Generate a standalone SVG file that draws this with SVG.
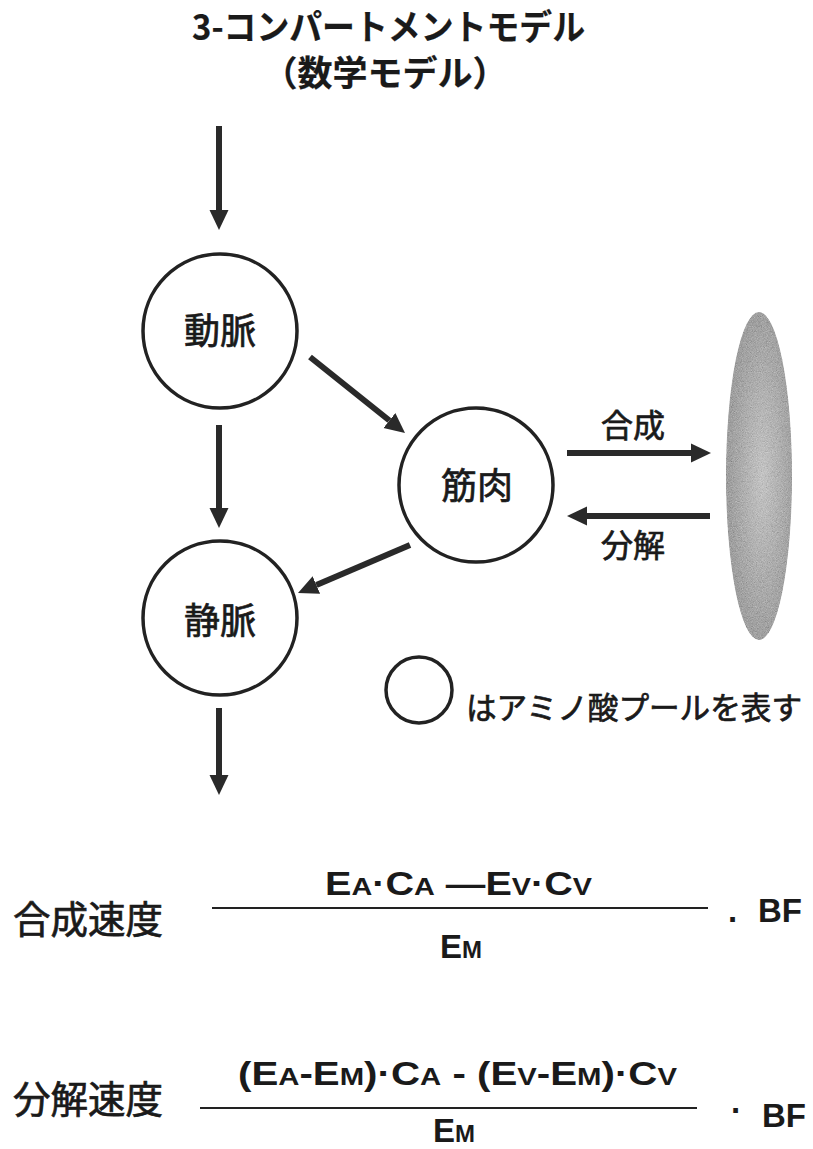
<svg xmlns="http://www.w3.org/2000/svg" width="813" height="1149" viewBox="0 0 813 1149">
<style>
.jp{font-family:"Noto Sans CJK JP","Noto Sans",sans-serif;fill:#1a1a1a;stroke:#1a1a1a;stroke-width:0.7}
.tt{font-weight:bold;font-size:35px;stroke-width:0.2}
.nd{font-size:36px}
.lat{font-family:"Liberation Sans",Arial,sans-serif;font-weight:bold;fill:#1a1a1a;font-size:33px}
.sub{font-size:24px}
.pool{fill:#fff;stroke:#222;stroke-width:3.5}
.ar{stroke:#2a2a2a;stroke-width:6;fill:none;marker-end:url(#ah)}
.fl{stroke:#222;stroke-width:2}
</style>
<defs>
<marker id="ah" markerUnits="userSpaceOnUse" markerWidth="22" markerHeight="22" refX="0" refY="10" orient="auto" viewBox="0 0 22 22">
<path d="M0,0.5 L20,10 L0,19.5 z" fill="#2a2a2a"/>
</marker>
<radialGradient id="eg" cx="0.55" cy="0.5" r="0.5">
<stop offset="0" stop-color="#d4d4d4"/>
<stop offset="1" stop-color="#acacac"/>
</radialGradient>
<filter id="grain" x="0" y="0" width="1" height="1">
<feTurbulence type="fractalNoise" baseFrequency="1.2" numOctaves="1" seed="4" result="n"/>
<feColorMatrix in="n" type="matrix" values="0.33 0.33 0.33 0 0  0.33 0.33 0.33 0 0  0.33 0.33 0.33 0 0  0 0 0 0 1" result="g"/>
<feComposite in="SourceGraphic" in2="g" operator="arithmetic" k1="0" k2="0.8" k3="0.6" k4="-0.28" result="m"/>
<feComposite in="m" in2="SourceGraphic" operator="in"/>
</filter>
</defs>
<rect width="813" height="1149" fill="#fff"/>
<g id="title">
<text class="jp tt" x="192" y="40" textLength="393" lengthAdjust="spacingAndGlyphs">3-コンパートメントモデル</text>
<text class="jp tt" x="385" y="86" text-anchor="middle" font-size="37">（数学モデル）</text>
</g>
<g id="connectors">
<line class="ar" x1="219" y1="126" x2="219" y2="210"/>
<line class="ar" x1="219" y1="425" x2="219" y2="508"/>
<line class="ar" x1="310" y1="357" x2="389.4" y2="420.5"/>
<line class="ar" x1="410" y1="545" x2="316.4" y2="585.1"/>
<line class="ar" x1="219" y1="708" x2="219" y2="775"/>
<line class="ar" x1="567" y1="453" x2="691" y2="453"/>
<line class="ar" x1="710" y1="516" x2="587" y2="516"/>
</g>
<g id="node-artery">
<circle class="pool" cx="220" cy="331" r="77"/>
<text class="jp nd" x="220" y="344" text-anchor="middle">動脈</text>
</g>
<g id="node-vein">
<circle class="pool" cx="220" cy="618" r="77"/>
<text class="jp nd" x="220" y="634" text-anchor="middle">静脈</text>
</g>
<g id="node-muscle">
<circle class="pool" cx="476" cy="485" r="77"/>
<text class="jp nd" x="477" y="499" text-anchor="middle">筋肉</text>
</g>
<g id="node-protein">
<ellipse cx="759" cy="476" rx="33" ry="164" fill="url(#eg)" filter="url(#grain)"/>
</g>
<g id="labels">
<text class="jp" font-size="32" x="633" y="437" text-anchor="middle">合成</text>
<text class="jp" font-size="32" x="633" y="557" text-anchor="middle">分解</text>
</g>
<g id="legend">
<circle class="pool" cx="419" cy="690" r="33"/>
<text class="jp" font-size="31" x="466" y="719" textLength="336" lengthAdjust="spacingAndGlyphs">はアミノ酸プールを表す</text>
</g>
<g id="formula-synthesis">
<text class="jp" font-size="38" x="13" y="933" textLength="150" lengthAdjust="spacingAndGlyphs">合成速度</text>
<text class="lat" x="325" y="895" textLength="267" lengthAdjust="spacingAndGlyphs">E<tspan class="sub">A</tspan>·C<tspan class="sub">A</tspan> —E<tspan class="sub">V</tspan>·C<tspan class="sub">V</tspan></text>
<line class="fl" x1="212" y1="908" x2="708" y2="908"/>
<text class="lat" x="440" y="958">E<tspan class="sub">M</tspan></text>
<text class="lat" x="728" y="922">.</text>
<text class="lat" x="758" y="922">BF</text>
</g>
<g id="formula-breakdown">
<text class="jp" font-size="38" x="13" y="1113" textLength="150" lengthAdjust="spacingAndGlyphs">分解速度</text>
<text class="lat" x="238" y="1085" textLength="439" lengthAdjust="spacingAndGlyphs">(E<tspan class="sub">A</tspan>-E<tspan class="sub">M</tspan>)·C<tspan class="sub">A</tspan> - (E<tspan class="sub">V</tspan>-E<tspan class="sub">M</tspan>)·C<tspan class="sub">V</tspan></text>
<line class="fl" x1="200" y1="1108" x2="697" y2="1108"/>
<text class="lat" x="433" y="1142">E<tspan class="sub">M</tspan></text>
<text class="lat" x="731" y="1122">·</text>
<text class="lat" x="762" y="1127">BF</text>
</g>
</svg>
